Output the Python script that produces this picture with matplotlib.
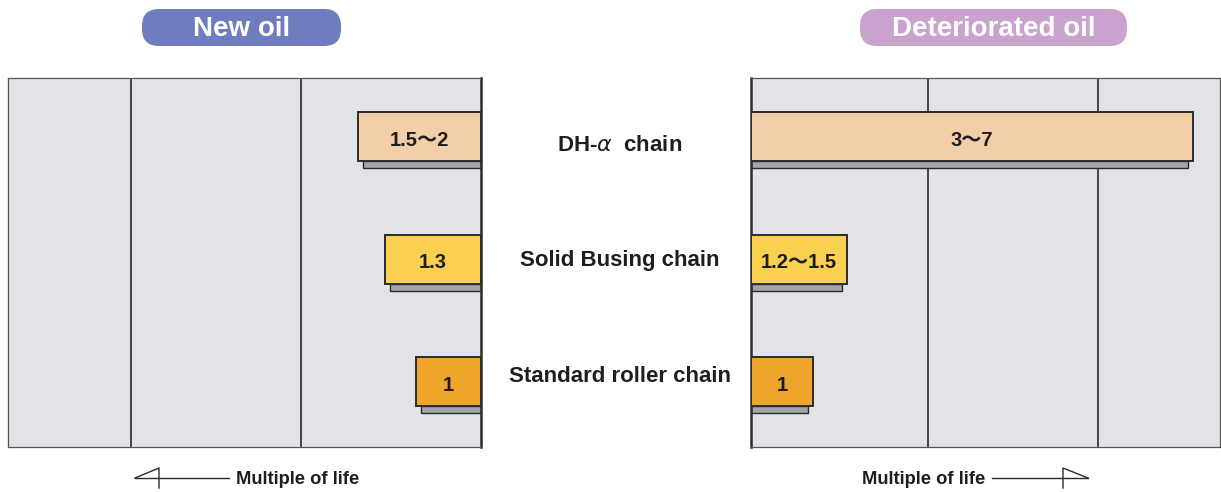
import numpy as np
import matplotlib
matplotlib.use("Agg")
import matplotlib.pyplot as plt
from matplotlib.patches import FancyBboxPatch
from matplotlib.transforms import blended_transform_factory

# chain types, top to bottom
chains = ["DH-$\\alpha$  chain", "Solid Busing chain", "Standard roller chain"]

# relative bar length (multiple of life, drawn scale) and printed labels
new_len = [1.90, 1.48, 1.00]
new_lbl = ["1.5〜2", "1.3", "1"]
det_len = [6.82, 1.48, 0.96]
det_lbl = ["3〜7", "1.2〜1.5", "1"]

# reference grid lines inside each panel
new_grid = [2.78, 5.40]
det_grid = [2.73, 5.35]

bar_colors = ["#F2CEA9", "#FBCF4F", "#EFA42B"]
shadow_col = "#A2A7AE"
panel_bg = "#E2E3E7"
dark = "#2B2B2B"

plt.rcParams['font.family'] = ['Liberation Sans', 'Noto Sans CJK JP', 'DejaVu Sans']

W, H = 1221, 492
fig = plt.figure(figsize=(W / 100, H / 100), dpi=100)

# overlay in pixel coordinates for headers and arrows
ax0 = fig.add_axes([0, 0, 1, 1], zorder=-1)
ax0.set_xlim(0, W)
ax0.set_ylim(H, 0)
ax0.axis("off")


def panel(x0, x1, y0=78, y1=447):
    return fig.add_axes([x0 / W, 1 - y1 / H, (x1 - x0) / W, (y1 - y0) / H])


ax_l = panel(8, 481)
ax_r = panel(751, 1220)

ypos = np.arange(len(chains))
bh = 0.40
sh = 0.058


def draw(ax, lens, lbls, grid, xmax, inverted):
    ax.set_facecolor(panel_bg)
    for g in grid:
        ax.axvline(g, color=dark, lw=1.2, zorder=1)
    # shadows
    off = 5 / 64.8
    ax.barh(ypos + bh / 2 + sh / 2, [l - off for l in lens], height=sh,
            left=0, color=shadow_col, edgecolor=dark, linewidth=1.0, zorder=2)
    ax.barh(ypos, lens, height=bh, left=0, color=bar_colors,
            edgecolor=dark, linewidth=1.4, zorder=3)
    for y, l, t in zip(ypos, lens, lbls):
        ax.text(l / 2, y + 0.03, t, ha="center", va="center",
                fontsize=14.5, fontweight="bold", color="#1E1E1E", zorder=4)
    if inverted:
        ax.set_xlim(xmax, 0)
    else:
        ax.set_xlim(0, xmax)
    ax.set_ylim(2.534, -0.478)
    ax.set_xticks([])
    ax.set_yticks([])
    for s in ax.spines.values():
        s.set_color("#555555")
        s.set_linewidth(0.9)


draw(ax_l, new_len, new_lbl, new_grid, 473 / 64.8, True)
draw(ax_r, det_len, det_lbl, det_grid, 469 / 64.8, False)
ax_l.spines["right"].set_color(dark)
ax_l.spines["right"].set_linewidth(1.8)
ax_r.spines["left"].set_color(dark)
ax_r.spines["left"].set_linewidth(1.8)

# chain names in the middle, near the bars
label_dy = [0.075, 0.015, -0.04]
tr = blended_transform_factory(fig.transFigure, ax_l.transData)
for y, dy, name in zip(ypos, label_dy, chains):
    fig.text(620 / W, y + dy, name, transform=tr, ha="center", va="center",
             fontsize=16, fontweight="bold", color="#1E1E1E")

# headers
for (x0, x1, txt, col) in [(142, 341, "New oil", "#6F7DBF"),
                           (860, 1127, "Deteriorated oil", "#C9A3CE")]:
    box = FancyBboxPatch((x0, 9), x1 - x0, 37,
                         boxstyle="round,pad=0,rounding_size=17",
                         facecolor=col, edgecolor="none")
    ax0.add_patch(box)
    ax0.text((x0 + x1) / 2, 29.5, txt, ha="center", va="center",
             fontsize=20, fontweight="bold", color="white")

# axis arrows
ya = 478
ax0.plot([135, 229], [ya, ya], color=dark, lw=1.0)
ax0.plot([135, 159, 159], [ya, 468, 488], color=dark, lw=1.0)
ax0.text(236, ya + 1.5, "Multiple of life", ha="left", va="center",
         fontsize=13.2, fontweight="bold", color="#1E1E1E")
ax0.plot([992, 1088], [ya, ya], color=dark, lw=1.0)
ax0.plot([1088, 1063, 1063], [ya, 468, 488], color=dark, lw=1.0)
ax0.text(985, ya + 1.5, "Multiple of life", ha="right", va="center",
         fontsize=13.2, fontweight="bold", color="#1E1E1E")

fig.savefig("out.png", dpi=100, facecolor="white")
